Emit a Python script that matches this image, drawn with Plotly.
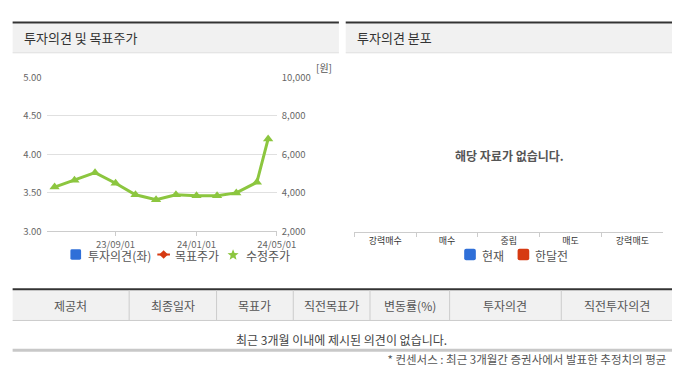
import plotly.graph_objects as go
import math

W, H = 692, 378
FONT = "Noto Sans CJK KR"

# ---------------- data ----------------
dates = ["2023-06-01", "2023-07-01", "2023-08-01", "2023-09-01", "2023-10-01",
         "2023-11-01", "2023-12-01", "2024-01-01", "2024-02-01", "2024-03-01",
         "2024-04-01", "2024-04-18"]
adj_price = [4300, 4650, 5050, 4500, 3900, 3650, 3900, 3850, 3850, 4000, 4550, 6800]
x_tickvals = ["2023-09-01", "2024-01-01", "2024-05-01"]
x_ticktext = ["23/09/01", "24/01/01", "24/05/01"]
opinion_categories = ["강력매수", "매수", "중립", "매도", "강력매도"]
opinion_now = [None, None, None, None, None]
table_headers = ["제공처", "최종일자", "목표가", "직전목표가", "변동률(%)", "투자의견", "직전투자의견"]
table_bounds = [13, 133, 223, 302, 381, 463, 578, 692]
footnote = "* 컨센서스 : 최근 3개월간 증권사에서 발표한 추정치의 평균"

BLUE = "#2f6fd8"
RED = "#d63a12"
GREEN = "#8cc63f"


def px(x):
    return x / W


def py(y):
    return 1 - y / H


fig = go.Figure()

fig.add_trace(go.Scatter(x=[], y=[], xaxis="x", yaxis="y", showlegend=False))
fig.add_trace(go.Scatter(
    x=dates, y=adj_price, xaxis="x", yaxis="y2", mode="lines+markers",
    line=dict(color=GREEN, width=3),
    marker=dict(symbol="triangle-up", size=9, color=GREEN),
    showlegend=False, name="수정주가"))

fig.add_trace(go.Bar(x=opinion_categories, y=opinion_now, xaxis="x2", yaxis="y3",
                     marker_color=BLUE, showlegend=False))

fig.add_trace(go.Scatter(x=[399], y=[367], text=[footnote], mode="text",
                         textposition="middle right", cliponaxis=True,
                         textfont=dict(family=FONT, size=11.5, color="#555"),
                         xaxis="x3", yaxis="y4", showlegend=False, hoverinfo="skip"))

shapes = []
ann = []


def rect(x0, y0, x1, y1, color, line=None):
    shapes.append(dict(type="rect", xref="paper", yref="paper",
                       x0=px(x0), x1=px(x1), y0=py(y0), y1=py(y1),
                       fillcolor=color, line=dict(width=0) if line is None else line,
                       layer="below"))


def hline(x0, x1, y, color, width=1):
    shapes.append(dict(type="line", xref="paper", yref="paper",
                       x0=px(x0), x1=px(x1), y0=py(y), y1=py(y),
                       line=dict(color=color, width=width)))


def vline(x, y0, y1, color, width=1):
    shapes.append(dict(type="line", xref="paper", yref="paper",
                       x0=px(x), x1=px(x), y0=py(y0), y1=py(y1),
                       line=dict(color=color, width=width)))


def text(x, y, s, size=12, color="#555", xanchor="center", bold=False):
    ann.append(dict(xref="paper", yref="paper", x=px(x), y=py(y), text=("<b>%s</b>" % s) if bold else s,
                    showarrow=False, xanchor=xanchor, yanchor="middle",
                    font=dict(family=FONT, size=size, color=color)))


def rounded_square(cx, cy, half, r, color):
    x0, x1 = px(cx - half), px(cx + half)
    y0, y1 = py(cy + half), py(cy - half)
    rx, ry = r / W, r / H
    path = (f"M {x0+rx},{y0} L {x1-rx},{y0} Q {x1},{y0} {x1},{y0+ry} "
            f"L {x1},{y1-ry} Q {x1},{y1} {x1-rx},{y1} L {x0+rx},{y1} "
            f"Q {x0},{y1} {x0},{y1-ry} L {x0},{y0+ry} Q {x0},{y0} {x0+rx},{y0} Z")
    shapes.append(dict(type="path", xref="paper", yref="paper", path=path,
                       fillcolor=color, line=dict(width=0)))


for (a, b, title) in [(13, 349, "투자의견 및 목표주가"), (356, 692, "투자의견 분포")]:
    rect(a, 16, b, 46, "#f1f1f1")
    hline(a, b, 15, "#333333", 2)
    hline(a, b, 46.5, "#dddddd", 1)
    text(a + 10, 31, title, size=13, color="#333", xanchor="left")

text(323, 62, "[원]", size=10, color="#555", xanchor="left")

rounded_square(78, 256, 5.5, 1.5, BLUE)
text(89, 257, "투자의견(좌)", size=12, color="#555", xanchor="left")
hline(162, 175, 256, RED, 2)
dx, dy = 4.5 / W, 4.5 / H
cxp, cyp = px(168.5), py(256)
shapes.append(dict(type="path", xref="paper", yref="paper",
                   path=f"M {cxp},{cyp+dy} L {cxp+dx},{cyp} L {cxp},{cyp-dy} L {cxp-dx},{cyp} Z",
                   fillcolor=RED, line=dict(width=0)))
text(178, 257, "목표주가", size=12, color="#555", xanchor="left")
pts = []
for i in range(10):
    r = 6 if i % 2 == 0 else 2.6
    ang = -math.pi / 2 + i * math.pi / 5
    pts.append((px(240 + r * math.cos(ang)), py(256.5 + r * math.sin(ang))))
star = "M " + " L ".join(f"{a},{b}" for a, b in pts) + " Z"
shapes.append(dict(type="path", xref="paper", yref="paper", path=star,
                   fillcolor=GREEN, line=dict(width=0)))
text(251, 257, "수정주가", size=12, color="#555", xanchor="left")

text(525, 153, "해당 자료가 없습니다.", size=12, color="#555", bold=True)
rounded_square(484, 256, 6, 2, BLUE)
text(494, 257, "현재", size=12, color="#555", xanchor="left")
rounded_square(539, 256, 6, 2, RED)
text(549, 257, "한달전", size=12, color="#555", xanchor="left")

rect(13, 293, 692, 324, "#f1f1f1")
hline(13, 692, 292, "#333333", 2)
hline(13, 692, 324.5, "#cccccc", 1)
for b in table_bounds[1:-1]:
    vline(b, 293, 324, "#cccccc", 1)
for i, h in enumerate(table_headers):
    cx = (table_bounds[i] + table_bounds[i + 1]) / 2
    text(cx, 309, h, size=12, color="#555")
text(352, 344, "최근 3개월 이내에 제시된 의견이 없습니다.", size=12, color="#444")
hline(13, 692, 355.5, "#c8c8c8", 3)

tickfont = dict(family=FONT, size=9.5, color="#666")

fig.update_layout(
    width=W, height=H, margin=dict(l=0, r=0, t=0, b=0, pad=0),
    paper_bgcolor="white", plot_bgcolor="rgba(0,0,0,0)",
    showlegend=False,
    xaxis=dict(domain=[px(48), px(285)], type="date",
               range=["2023-05-20", "2024-05-01"],
               tickvals=x_tickvals, ticktext=x_ticktext,
               showgrid=False, showline=True, linecolor="#cccccc",
               ticks="outside", ticklen=4, tickcolor="#cccccc",
               tickfont=tickfont, anchor="y", zeroline=False),
    yaxis=dict(domain=[py(232), py(72)], range=[3, 5], dtick=0.5,
               tickformat=".2f", showgrid=True, gridcolor="#e0e0e0",
               zeroline=False, tickfont=tickfont, ticklabelstandoff=4,
               fixedrange=True),
    yaxis2=dict(domain=[py(232), py(72)], range=[2000, 10000], dtick=2000,
                tickformat=",", overlaying="y", side="right", anchor="x",
                showgrid=False, zeroline=False, tickfont=tickfont,
                ticklabelstandoff=4),
    xaxis2=dict(domain=[px(365), px(683)], anchor="y3", type="category",
                categoryorder="array", categoryarray=opinion_categories,
                range=[-0.5, 4.5],
                showline=True, linecolor="#cccccc", ticks="outside",
                tickson="boundaries", ticklen=4, tickcolor="#cccccc",
                showgrid=False, zeroline=False,
                tickfont=dict(family=FONT, size=9, color="#333")),
    yaxis3=dict(domain=[py(233), py(72)], range=[0, 1], visible=False,
                anchor="x2"),
    xaxis3=dict(domain=[0, 1], range=[0, W], visible=False, anchor="y4"),
    yaxis4=dict(domain=[0, 1], range=[H, 0], visible=False, anchor="x3"),
    shapes=shapes, annotations=ann,
)

fig.write_html(
    "out.html",
    config={"displayModeBar": False},
    post_script=(
        "document.documentElement.style.overflow='hidden';"
        "document.body.style.margin='0';document.body.style.padding='0';"
    ),
)
